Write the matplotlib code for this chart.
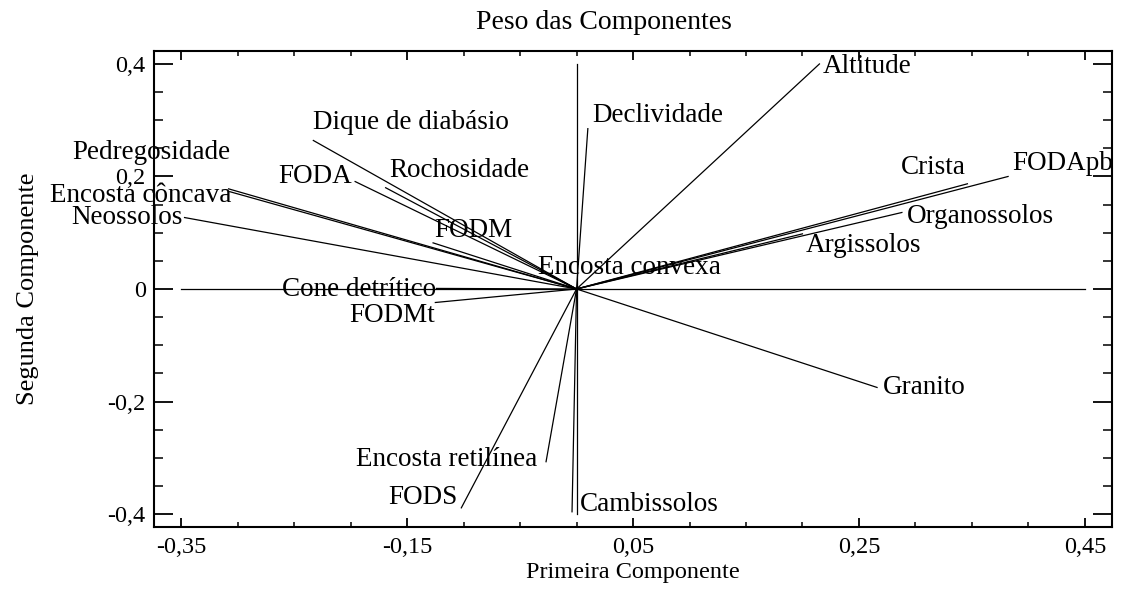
import numpy as np
import matplotlib
matplotlib.use("Agg")
import matplotlib.pyplot as plt
from matplotlib.ticker import MultipleLocator, FixedLocator, FuncFormatter

plt.rcParams['font.family'] = ['Liberation Serif', 'DejaVu Serif']

# component weights
names = ["Altitude", "Declividade", "Dique de diabásio", "Pedregosidade",
         "Encosta côncava", "Neossolos", "FODA", "Rochosidade", "FODM",
         "Encosta convexa", "Cone detrítico", "FODMt", "Granito",
         "Encosta retilínea", "FODS", "Cambissolos", "Crista", "FODApb",
         "Organossolos", "Argissolos"]
comp1 = [0.215, 0.010, -0.233, -0.308, -0.307, -0.347, -0.196, -0.169, -0.127,
         -0.032, -0.124, -0.125, 0.266, -0.027, -0.102, -0.004, 0.346, 0.382,
         0.288, 0.200]
comp2 = [0.400, 0.285, 0.264, 0.178, 0.173, 0.127, 0.191, 0.180, 0.082,
         0.034, 0.001, -0.024, -0.175, -0.307, -0.389, -0.396, 0.187, 0.200,
         0.136, 0.098]

# label placement: offset in pixels from the end of the vector, alignment
offsets = [(3, -3), (4, 13), (0, 18), (2, 36), (2, -4), (-2, 0), (-3, 5),
           (4, 17), (1, 12), (-2, 2), (0, -1), (0, -13), (6, 0), (-9, 2),
           (-4, 10), (8, 7), (-2, 16), (4, 13), (5, -4), (3, -12)]
aligns = ["left", "left", "left", "right", "right", "right", "right", "left",
          "left", "left", "right", "right", "left", "right", "right", "left",
          "right", "left", "left", "left"]

fig = plt.figure(figsize=(11.22, 5.89), dpi=100)
ax = fig.add_axes([0.1373, 0.1053, 0.8538, 0.8081])

ax.plot([-0.35, 0.45], [0, 0], color="black", lw=0.9)
ax.plot([0, 0], [-0.4, 0.4], color="black", lw=0.9)

for n, x, y, off, ha in zip(names, comp1, comp2, offsets, aligns):
    ax.plot([0, x], [0, y], color="black", lw=0.9)
    ax.annotate(n, (x, y), xytext=(off[0] * 0.72, off[1] * 0.72),
                textcoords="offset points", ha=ha, va="center", fontsize=19.5)

ax.set_xlim(-0.374, 0.474)
ax.set_ylim(-0.423, 0.423)

ax.xaxis.set_major_locator(FixedLocator([-0.35, -0.15, 0.05, 0.25, 0.45]))
ax.xaxis.set_minor_locator(FixedLocator(np.arange(-0.35, 0.46, 0.05)))
ax.yaxis.set_major_locator(MultipleLocator(0.2))
ax.yaxis.set_minor_locator(MultipleLocator(0.05))

def fmt(v, pos):
    if abs(v) < 1e-9:
        return "0"
    s = f"{v:.2f}".rstrip("0") if abs(v * 10 - round(v * 10)) < 1e-9 else f"{v:.2f}"
    return s.replace(".", ",")

ax.xaxis.set_major_formatter(FuncFormatter(fmt))
ax.yaxis.set_major_formatter(FuncFormatter(fmt))

ax.tick_params(axis="x", which="major", direction="in", length=6.5, width=1.3,
               top=True, labelsize=17.5, pad=7)
ax.tick_params(axis="x", which="minor", direction="in", length=3.6, width=1.1,
               top=True)
ax.tick_params(axis="y", which="major", direction="in", length=13.7, width=1.3,
               right=True, labelsize=17.5, pad=6)
ax.tick_params(axis="y", which="minor", direction="in", length=6.5, width=1.1,
               right=True)
for s in ax.spines.values():
    s.set_linewidth(1.5)

ax.set_xlabel("Primeira Componente", fontsize=17.5)
ax.xaxis.set_label_coords(0.5, -0.074)
ax.set_ylabel("Segunda Componente", fontsize=19)
ax.yaxis.set_label_coords(-0.12, 0.5)
fig.text(0.538, 0.9626, "Peso das Componentes", fontsize=20,
         ha="center", va="center")

fig.savefig("out.png", dpi=100)
